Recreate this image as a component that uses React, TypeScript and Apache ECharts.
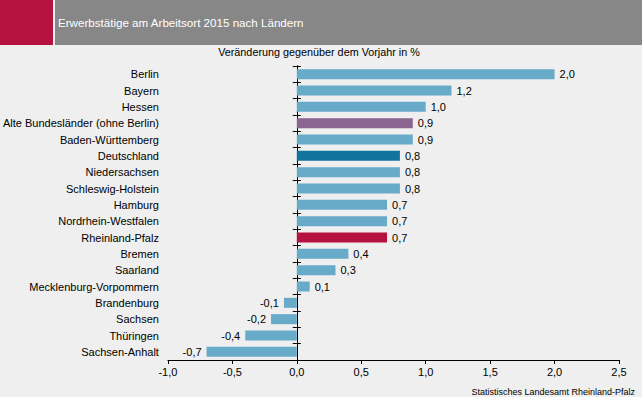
import React, { useEffect, useRef } from "react";
import * as echarts from "echarts";

const categories = [
  "Berlin", "Bayern", "Hessen", "Alte Bundesländer (ohne Berlin)", "Baden-Württemberg",
  "Deutschland", "Niedersachsen", "Schleswig-Holstein", "Hamburg", "Nordrhein-Westfalen",
  "Rheinland-Pfalz", "Bremen", "Saarland", "Mecklenburg-Vorpommern", "Brandenburg",
  "Sachsen", "Thüringen", "Sachsen-Anhalt",
];
const values = [2.0, 1.2, 1.0, 0.9, 0.9, 0.8, 0.8, 0.8, 0.7, 0.7, 0.7, 0.4, 0.3, 0.1, -0.1, -0.2, -0.4, -0.7];
const highlight: Record<string, string> = {
  "Alte Bundesländer (ohne Berlin)": "#8a6592",
  "Deutschland": "#13739f",
  "Rheinland-Pfalz": "#b5123f",
};
const title = "Erwerbstätige am Arbeitsort 2015 nach Ländern";
const subtitle = "Veränderung gegenüber dem Vorjahr in %";
const source = "Statistisches Landesamt Rheinland-Pfalz";

const FONT = "'Liberation Sans', Arial, sans-serif";
const fmt = (v: number) => v.toFixed(1).replace(".", ",");

export default function App() {
  const ref = useRef<HTMLDivElement>(null);
  useEffect(() => {
    const chart = echarts.init(ref.current!, null, { renderer: "svg" });
    const tickAxis = (inside: boolean, xIdx: number) => ({
      type: "category",
      data: categories,
      inverse: true,
      position: "left",
      axisLine: { show: true, onZero: true, onZeroAxisIndex: xIdx, lineStyle: { color: "#000", width: 1 } },
      axisTick: { show: true, inside, length: 4, lineStyle: { color: "#000", width: 1 } },
      axisLabel: { show: false },
      splitLine: { show: false },
    });
    chart.setOption({
      animation: false,
      backgroundColor: "#eeefee",
      textStyle: { fontFamily: FONT },
      graphic: [
        { type: "rect", shape: { x: 0, y: 0, width: 53, height: 45 }, style: { fill: "#b5123f" } },
        { type: "rect", shape: { x: 55, y: 0, width: 587, height: 45 }, style: { fill: "#878787" } },
        {
          type: "text", x: 58, y: 22,
          style: { text: title, fill: "#ffffff", font: `11.6px ${FONT}`, textVerticalAlign: "middle" },
        },
        {
          type: "text", x: 319, y: 52,
          style: { text: subtitle, fill: "#000", font: `10.8px ${FONT}`, textAlign: "center", textVerticalAlign: "middle" },
        },
        {
          type: "text", x: 635, y: 392,
          style: { text: source, fill: "#000", font: `9px ${FONT}`, textAlign: "right", textVerticalAlign: "middle" },
        },
      ],
      grid: { left: 164, right: 23, top: 66, bottom: 37, containLabel: false },
      xAxis: [
        {
          type: "value",
          min: -1,
          max: 2.5,
          interval: 0.5,
          axisLine: { show: true, onZero: false, lineStyle: { color: "#000", width: 1 } },
          axisTick: { show: true, length: 4, lineStyle: { color: "#000" } },
          axisLabel: { formatter: (v: number) => fmt(v), color: "#000", fontSize: 11, margin: 6, fontFamily: FONT },
          splitLine: { show: false },
        },
        {
          type: "value",
          min: -1,
          max: 2.5,
          interval: 0.5,
          show: false,
          splitLine: { show: false },
        },
      ],
      yAxis: [
        {
          type: "category",
          data: categories,
          inverse: true,
          position: "left",
          axisLine: { show: false, onZero: false },
          axisTick: { show: false },
          axisLabel: { color: "#000", fontSize: 11, margin: 9, fontFamily: FONT },
        },
        tickAxis(false, 0),
        tickAxis(true, 1),
      ],
      series: [
        {
          type: "bar",
          yAxisIndex: 0,
          xAxisIndex: 0,
          barWidth: 10,
          data: values.map((v, i) => ({
            value: v,
            itemStyle: { color: highlight[categories[i]] || "#67abc9" },
            label: {
              show: true,
              position: v >= 0 ? "right" : "left",
              distance: 5,
              formatter: () => fmt(v),
              color: "#000",
              fontSize: 11,
              fontFamily: FONT,
            },
          })),
        },
      ],
    });
    return () => chart.dispose();
  }, []);
  return (
    <div
      ref={ref}
      style={{ position: "fixed", left: 0, top: 0, width: 642, height: 397 }}
    />
  );
}
